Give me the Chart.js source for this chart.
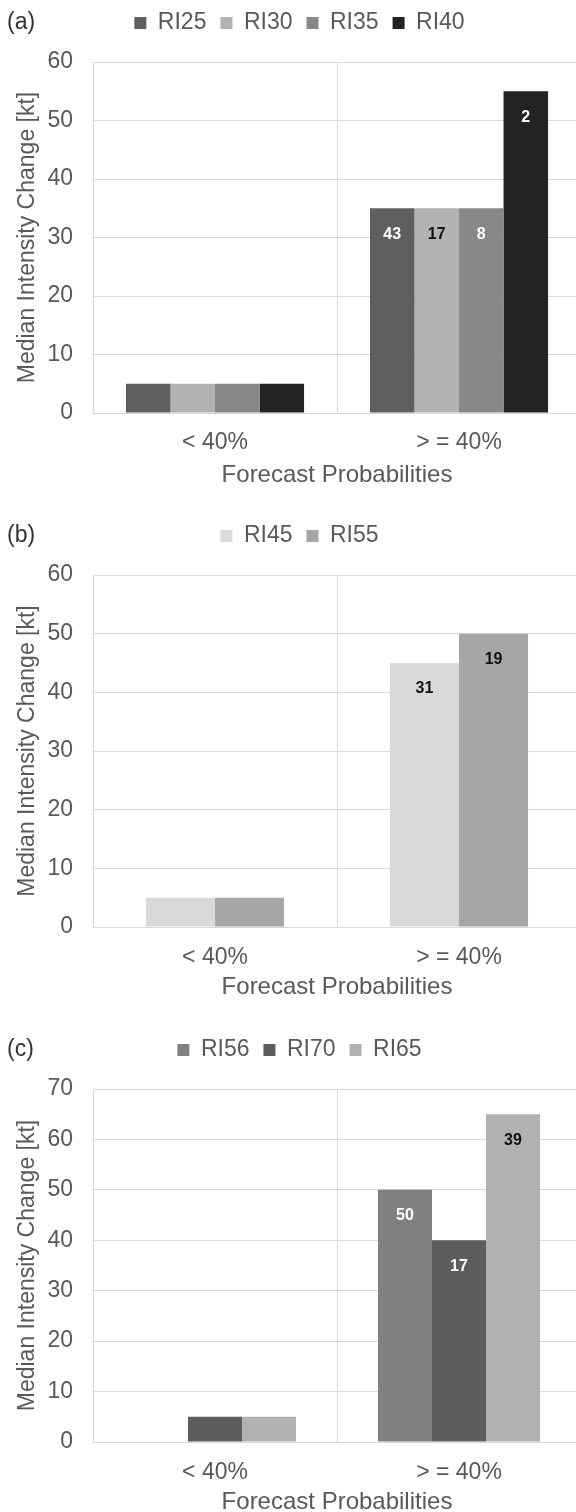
<!DOCTYPE html>
<html>
<head>
<meta charset="utf-8">
<script src="https://cdn.jsdelivr.net/npm/chart.js@4.4.1/dist/chart.umd.min.js"></script>
<style>
  html, body { margin: 0; padding: 0; background: #ffffff; }
  body { width: 576px; height: 1512px; overflow: hidden; position: relative; }
  .panel { position: absolute; left: 0; width: 581px; }
  .panel canvas { display: block; }
</style>
</head>
<body>
<div class="panel" style="top:0px;height:500px"><canvas id="chartA"></canvas></div>
<div class="panel" style="top:513px;height:500px"><canvas id="chartB"></canvas></div>
<div class="panel" style="top:1027px;height:500px"><canvas id="chartC"></canvas></div>
<script>
// Categories shared by all three panels
const categories = ['< 40%', '> = 40%'];

// Panel (a): median intensity change [kt]
const seriesA = ['RI25', 'RI30', 'RI35', 'RI40'];
const ri25 = [5, 35];
const ri30 = [5, 35];
const ri35 = [5, 35];
const ri40 = [5, 55];
const countsA = [[null, 43], [null, 17], [null, 8], [null, 2]];

// Panel (b)
const seriesB = ['RI45', 'RI55'];
const ri45 = [5, 45];
const ri55 = [5, 50];
const countsB = [[null, 31], [null, 19]];

// Panel (c)
const seriesC = ['RI56', 'RI70', 'RI65'];
const ri56 = [null, 50];
const ri70 = [5, 40];
const ri65 = [5, 65];
const countsC = [[null, 50], [null, 17], [null, 39]];

// Axis ranges
const yTicksA = { max: 60, step: 10 };
const yTicksB = { max: 60, step: 10 };
const yTicksC = { max: 70, step: 10 };

const FONT = '"Liberation Sans", Arial, sans-serif';
const TEXT = '#595959';
const GRID = '#d9d9d9';

// Sample counts written inside the top of each bar
const countLabels = {
  id: 'countLabels',
  afterDatasetsDraw(chart, args, opts) {
    const ctx = chart.ctx;
    ctx.save();
    ctx.font = 'bold 16px ' + FONT;
    ctx.textAlign = 'center';
    ctx.textBaseline = 'middle';
    opts.counts.forEach((arr, i) => {
      const meta = chart.getDatasetMeta(i);
      arr.forEach((c, j) => {
        if (c === null) return;
        const el = meta.data[j];
        ctx.fillStyle = opts.colors[i];
        ctx.fillText(String(c), el.x, el.y + 26);
      });
    });
    ctx.restore();
  }
};

// Panel letter in the top-left corner
const panelTag = {
  id: 'panelTag',
  afterDraw(chart, args, opts) {
    const ctx = chart.ctx;
    ctx.save();
    ctx.font = '23px ' + FONT;
    ctx.fillStyle = '#333333';
    ctx.textAlign = 'left';
    ctx.textBaseline = 'middle';
    ctx.fillText(opts.text, 7, 23);
    ctx.restore();
  }
};

// Keep the legend on the same line as the panel letter
const legendPlace = {
  id: 'legendPlace',
  afterLayout(chart) {
    const lg = chart.legend;
    if (!lg) return;
    lg.top -= 17.5; lg.bottom -= 17.5;
    lg.left += 9; lg.right += 9;
  }
};

function makeChart(id, cfg) {
  const datasets = cfg.names.map((n, i) => ({
    label: n,
    data: cfg.values[i],
    backgroundColor: cfg.colors[i],
    borderWidth: 0,
    barPercentage: 1.0,
    categoryPercentage: cfg.catPct
  }));
  return new Chart(document.getElementById(id), {
    type: 'bar',
    data: { labels: categories, datasets },
    plugins: [countLabels, panelTag, legendPlace],
    options: {
      responsive: true,
      maintainAspectRatio: false,
      animation: false,
      layout: { padding: { top: 15, left: 0, right: 0, bottom: 0 } },
      plugins: {
        tooltip: { enabled: false },
        legend: {
          position: 'top',
          labels: {
            boxWidth: 12, boxHeight: 12, padding: 14,
            color: TEXT, font: { family: FONT, size: 23 }
          }
        },
        countLabels: { counts: cfg.counts, colors: cfg.labelColors },
        panelTag: { text: cfg.tag }
      },
      scales: {
        x: {
          grid: { color: GRID, lineWidth: 1, drawTicks: false, offset: true },
          border: { color: GRID },
          ticks: { color: TEXT, font: { family: FONT, size: 23 }, padding: cfg.tickPad },
          title: {
            display: true, text: 'Forecast Probabilities', color: TEXT,
            font: { family: FONT, size: 24 }, padding: { top: 0, bottom: cfg.titlePad }
          },
          afterFit(s) { s.height = cfg.xHeight; }
        },
        y: {
          min: 0, max: cfg.yTicks.max,
          grid: { color: GRID, lineWidth: 1, drawTicks: false },
          border: { display: true, color: GRID },
          ticks: { stepSize: cfg.yTicks.step, color: TEXT, font: { family: FONT, size: 23 }, padding: 20 },
          title: {
            display: true, text: 'Median Intensity Change [kt]', color: TEXT,
            font: { family: FONT, size: 23 }, padding: { top: 14, bottom: 0 }
          },
          afterFit(s) { s.width = 93; }
        }
      }
    }
  });
}

makeChart('chartA', {
  tag: '(a)',
  names: seriesA,
  values: [ri25, ri30, ri35, ri40],
  colors: ['#5f5f5f', '#b3b3b3', '#888888', '#232323'],
  counts: countsA,
  labelColors: ['#ffffff', '#111111', '#ffffff', '#ffffff'],
  catPct: 0.73,
  yTicks: yTicksA,
  xHeight: 87, tickPad: 16, titlePad: 10
});

makeChart('chartB', {
  tag: '(b)',
  names: seriesB,
  values: [ri45, ri55],
  colors: ['#d9d9d9', '#a6a6a6'],
  counts: countsB,
  labelColors: ['#111111', '#111111'],
  catPct: 0.566,
  yTicks: yTicksB,
  xHeight: 86, tickPad: 17, titlePad: 11
});

makeChart('chartC', {
  tag: '(c)',
  names: seriesC,
  values: [ri56, ri70, ri65],
  colors: ['#818181', '#5d5d5d', '#b1b1b1'],
  counts: countsC,
  labelColors: ['#ffffff', '#ffffff', '#111111'],
  catPct: 0.664,
  yTicks: yTicksC,
  xHeight: 85, tickPad: 17, titlePad: 10
});
</script>
</body>
</html>
